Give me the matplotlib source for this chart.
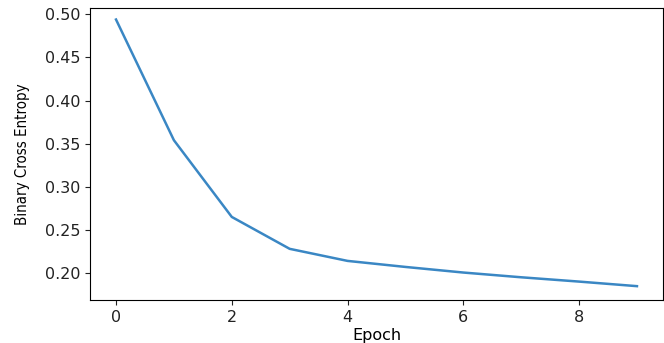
import matplotlib
matplotlib.use('Agg')
import matplotlib.pyplot as plt

epochs = [0, 1, 2, 3, 4, 5, 6, 7, 8, 9]
bce = [0.494, 0.354, 0.265, 0.228, 0.214, 0.207, 0.2005, 0.195, 0.190, 0.1847]

fig = plt.figure(figsize=(6.64, 3.43), dpi=100)
ax = fig.add_axes([0.1355, 0.125, 0.863, 0.852])

ax.plot(epochs, bce, color='#3a87c4', linewidth=1.8)

ax.set_ylim(0.1685, 0.5075)
ax.set_xlim(-0.45, 9.45)
ax.set_xticks([0, 2, 4, 6, 8])
ax.set_yticks([0.20, 0.25, 0.30, 0.35, 0.40, 0.45, 0.50])
ax.tick_params(labelsize=11.5, colors='#222222')
ax.set_xlabel('Epoch', fontsize=11.5, labelpad=2.5)
ax.set_ylabel('Binary Cross Entropy', fontsize=10.8, family='DejaVu Sans',
              fontstretch='condensed')
ax.yaxis.set_label_coords(-0.105, 0.5)

fig.savefig('out.png', dpi=100)
